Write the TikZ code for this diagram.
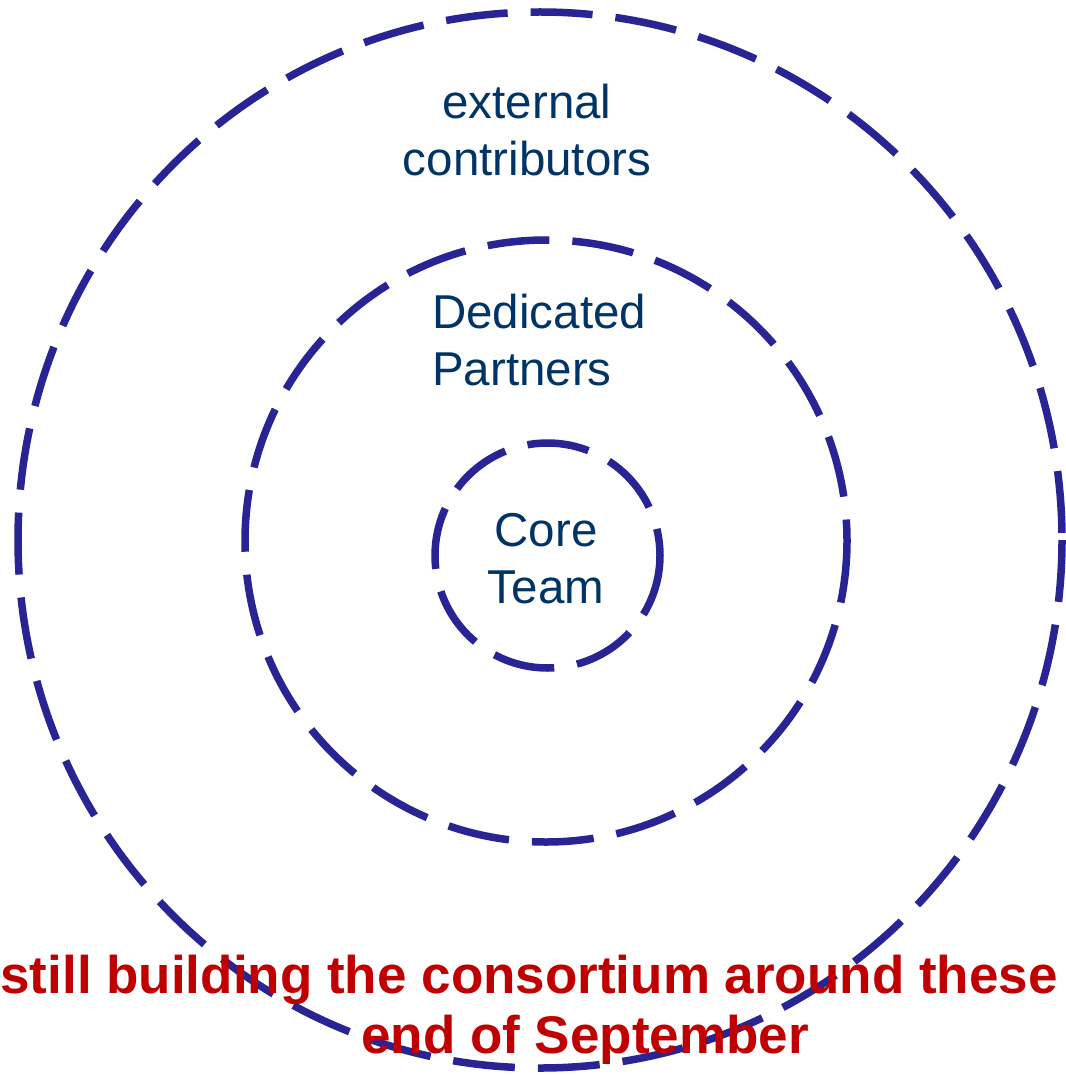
\documentclass[tikz,border=0pt]{standalone}
\usepackage{fontspec}
\setmainfont{Liberation Sans}
\definecolor{ringblue}{RGB}{40,36,148}
\definecolor{labelblue}{RGB}{0,51,102}
\definecolor{notered}{RGB}{192,0,0}
\begin{document}
\begin{tikzpicture}[x=1pt,y=-1pt,
  ring/.style={draw=ringblue,line width=7.5pt,dash pattern=on 62pt off 23pt},
  lbl/.style={text=labelblue,font=\fontsize{47.5}{57}\selectfont,inner sep=0pt},
  note/.style={text=notered,font=\bfseries\fontsize{53}{62}\selectfont,inner sep=0pt,anchor=base}]
\useasboundingbox (0,0) rectangle (1065,1075);
\draw[ring] (540,540) ellipse [x radius=522, y radius=528];
\draw[ring] (546,541) circle [radius=301];
\draw[ring] (547.5,555.5) circle [radius=112.5];
\node[lbl,align=center,anchor=base] (ext) at (527,176) {external\\contributors};
\node[lbl,align=left,anchor=base west] (ded) at (432,385) {Dedicated\\Partners};
\node[lbl,align=center,anchor=base] (core) at (546,603) {Core\\Team};
\node[note] (n1) at (529,993) {still building the consortium around these};
\node[note] (n2) at (585,1053) {end of September};
\end{tikzpicture}
\end{document}
